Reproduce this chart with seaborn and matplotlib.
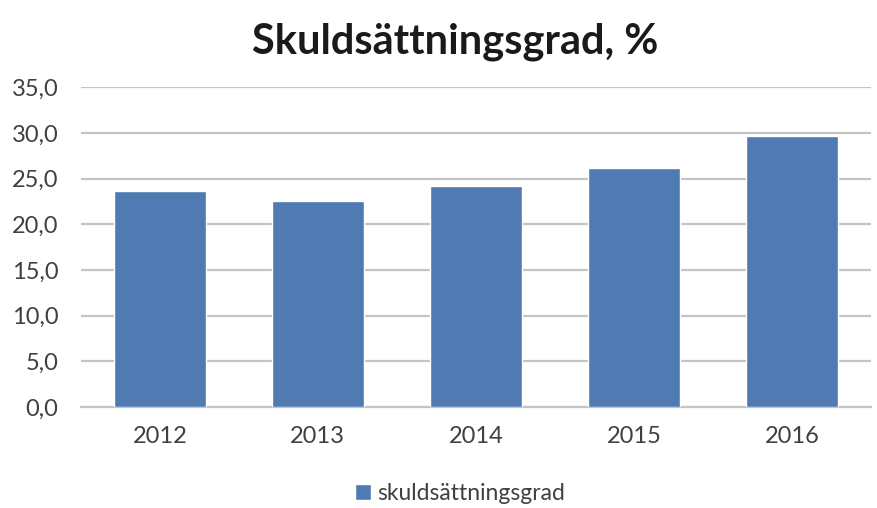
import matplotlib
matplotlib.use("Agg")
import matplotlib.pyplot as plt
import seaborn as sns
import pandas as pd
from matplotlib.ticker import FuncFormatter, MultipleLocator

years = ["2012", "2013", "2014", "2015", "2016"]
values = [23.6, 22.5, 24.2, 26.2, 29.7]
series_name = "skuldsättningsgrad"
title = "Skuldsättningsgrad, %"

df = pd.DataFrame({"year": years, "value": values, "series": series_name})

sns.set_theme(style="white")
plt.rcParams["font.family"] = ["Lato", "DejaVu Sans"]

BAR = "#4F7BB2"
GRID = "#C4C4C4"
TXT = "#404040"

fig = plt.figure(figsize=(8.78, 5.08), dpi=100)
ax = fig.add_axes([0.092, 0.199, 0.900, 0.629])

sns.barplot(data=df, x="year", y="value", hue="series", palette=[BAR],
            width=0.58, saturation=1, ax=ax, legend=True, zorder=3)

ax.set_ylim(0, 35)
ax.yaxis.set_major_locator(MultipleLocator(5))
ax.yaxis.set_major_formatter(FuncFormatter(lambda v, p: f"{v:.1f}".replace(".", ",")))
ax.grid(axis="y", color=GRID, linewidth=1.6, zorder=0)
ax.set_axisbelow(True)
for s in ["top", "right", "left"]:
    ax.spines[s].set_visible(False)
ax.spines["bottom"].set_color(GRID)
ax.spines["bottom"].set_linewidth(1.6)
ax.set_xlabel("")
ax.set_ylabel("")
ax.tick_params(axis="both", length=0, labelsize=17, colors=TXT)
ax.tick_params(axis="x", pad=14)
ax.tick_params(axis="y", pad=16)

ax.legend(loc="center", bbox_to_anchor=(0.48, -0.27), frameon=False,
          fontsize=16.5, handlelength=0.7, handleheight=0.7, handletextpad=0.3,
          labelcolor=TXT)

fig.text(0.519, 0.918, title, ha="center", va="center", fontsize=30,
         fontweight="bold", color="#1a1a1a")

fig.savefig("out.png", dpi=100, facecolor="white")
